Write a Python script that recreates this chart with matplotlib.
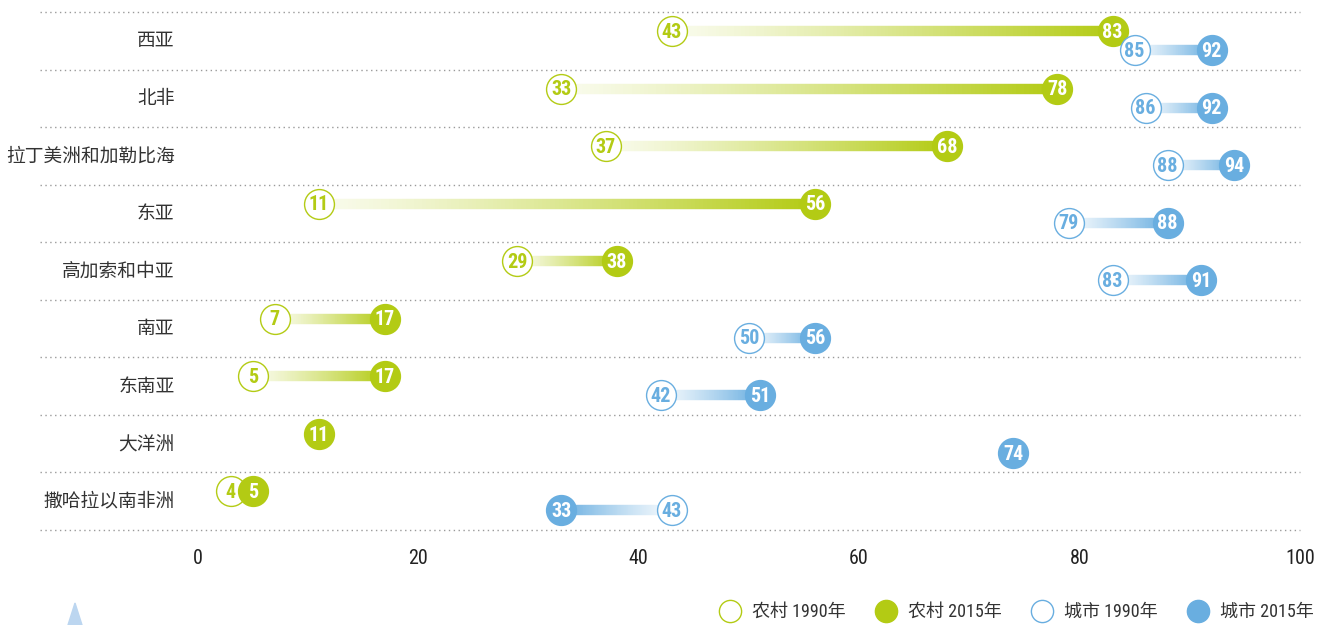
import numpy as np
import matplotlib
matplotlib.use('Agg')
import matplotlib.pyplot as plt
from matplotlib.collections import LineCollection
from matplotlib.colors import to_rgb
from matplotlib.lines import Line2D
from matplotlib.patches import Polygon

# data
regions = ['西亚', '北非', '拉丁美洲和加勒比海', '东亚', '高加索和中亚',
           '南亚', '东南亚', '大洋洲', '撒哈拉以南非洲']
rural_1990 = [43, 33, 37, 11, 29, 7, 5, None, 4]
rural_2015 = [83, 78, 68, 56, 38, 17, 17, 11, 5]
urban_1990 = [85, 86, 88, 79, 83, 50, 42, None, 43]
urban_2015 = [92, 92, 94, 88, 91, 56, 51, 74, 33]

GREEN = '#b3cb14'
BLUE = '#69aee0'
NUM_FONT = ['Roboto Condensed', 'Liberation Sans Narrow', 'Liberation Sans']
CJK_FONT = ['Noto Sans CJK SC', 'DejaVu Sans']
MIX_FONT = ['Roboto Condensed', 'Noto Sans CJK SC', 'DejaVu Sans']

W, H = 1325, 625
fig = plt.figure(figsize=(W / 100, H / 100), dpi=100)
ax = fig.add_axes([40 / W, 1 - 530 / H, 1260 / W, 518 / H])
ax.set_xlim(-14.3, 100)
ax.set_ylim(len(regions), 0)


def grad_bar(x0, x1, y, color, n=120):
    xs = np.linspace(x0, x1, n + 1)
    segs = [[(xs[k], y), (xs[k + 1], y)] for k in range(n)]
    c = np.array(to_rgb(color))
    t = np.linspace(0, 1, n)[:, None] ** 1.2
    cols = (1 - t) * (0.92 * np.ones(3) + 0.08 * c) + t * c
    lc = LineCollection(segs, colors=np.clip(cols, 0, 1), linewidths=7.5,
                        capstyle='butt', zorder=2)
    ax.add_collection(lc)


def dot(v, y, color, filled, z, shift=0):
    x = v + shift
    ax.plot([x], [y], 'o', ms=21.5, mfc=color if filled else 'white',
            mec=color, mew=1, zorder=z)
    ax.text(x, y + 0.02, str(v), ha='center', va='center', fontsize=14.5,
            fontweight='bold', family=NUM_FONT,
            color='white' if filled else color, zorder=z + 0.5)


for i, name in enumerate(regions):
    yr = i + 0.33
    yu = i + 0.66
    ax.axhline(i, color='#9a9a9a', lw=1, ls=(0, (1, 2.5)), zorder=0, clip_on=False)
    ax.text(-2.1, i + 0.5, name, ha='right', va='center', fontsize=13.5,
            family=CJK_FONT, color='#333333')

    # the two overlapping circles in the last row are pushed apart a little
    shift = -1 if (rural_1990[i] is not None and
                   rural_2015[i] - rural_1990[i] < 2) else 0
    if rural_1990[i] is not None:
        grad_bar(rural_1990[i], rural_2015[i], yr, GREEN)
        dot(rural_1990[i], yr, GREEN, False, 3, shift)
    dot(rural_2015[i], yr, GREEN, True, 4)

    if urban_1990[i] is not None:
        grad_bar(urban_1990[i], urban_2015[i], yu, BLUE)
        dot(urban_1990[i], yu, BLUE, False, 5)
    dot(urban_2015[i], yu, BLUE, True, 6)

ax.axhline(len(regions), color='#9a9a9a', lw=1, ls=(0, (1, 2.5)), zorder=0,
           clip_on=False)

ax.set_xticks([0, 20, 40, 60, 80, 100])
ax.set_yticks([])
ax.tick_params(axis='x', length=0, pad=14, labelsize=14.5, labelcolor='#222222')
for lab in ax.get_xticklabels():
    lab.set_family(NUM_FONT)
for s in ax.spines.values():
    s.set_visible(False)

handles = [
    Line2D([], [], marker='o', ls='', ms=16, mfc='white', mec=GREEN, mew=1),
    Line2D([], [], marker='o', ls='', ms=16, mfc=GREEN, mec=GREEN, mew=1),
    Line2D([], [], marker='o', ls='', ms=16, mfc='white', mec=BLUE, mew=1),
    Line2D([], [], marker='o', ls='', ms=16, mfc=BLUE, mec=BLUE, mew=1),
]
labels = ['农村 1990年', '农村 2015年', '城市 1990年', '城市 2015年']
fig.legend(handles, labels, loc='center right',
           bbox_to_anchor=(1330 / W, 1 - 612 / H), ncol=4, frameon=False,
           prop={'family': MIX_FONT, 'size': 13}, handletextpad=0.2,
           columnspacing=1.25, labelcolor='#333333')

# small decorative triangle bottom left
tri = Polygon([(68 / W, 0), (75 / W, 1 - 603 / H), (82 / W, 0)],
              closed=True, transform=fig.transFigure, color='#bcd6f0')
fig.patches.append(tri)

fig.savefig('out.png', dpi=100)
